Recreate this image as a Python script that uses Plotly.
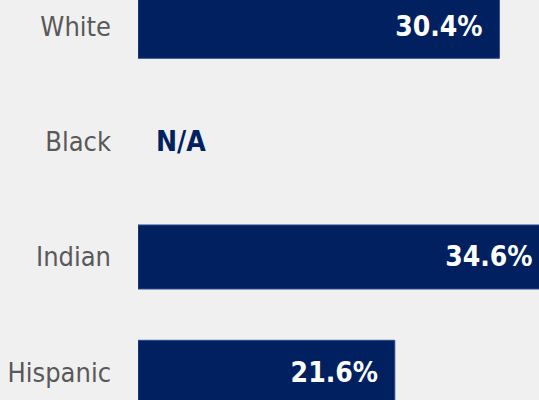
import plotly.graph_objects as go

categories = ["White", "Black", "Indian", "Hispanic"]
values = [30.4, None, 34.6, 21.6]
value_labels = ["30.4%", "N/A", "34.6%", "21.6%"]

NAVY = "#002060"
BG = "#f0f0f0"
FONT = "DejaVu Sans Condensed, Liberation Sans Narrow, sans-serif"
PAD = "\u00a0\u2009"

bar_text = [(lbl + PAD) if v is not None else "" for v, lbl in zip(values, value_labels)]

fig = go.Figure()
fig.add_trace(go.Bar(
    y=categories,
    x=values,
    orientation="h",
    width=0.555,
    marker=dict(color=NAVY, line=dict(color="#2a4a8a", width=1)),
    text=bar_text,
    textposition="inside",
    insidetextanchor="end",
    textangle=0,
    insidetextfont=dict(family=FONT, size=28, color="white", weight="bold"),
    hoverinfo="skip",
))

for cat, v, lbl in zip(categories, values, value_labels):
    if v is None:
        fig.add_annotation(
            x=0, y=cat, xref="x", yref="y",
            text="<b>" + lbl + "</b>",
            showarrow=False, xanchor="left", yanchor="middle",
            xshift=16,
            font=dict(family=FONT, size=28, color=NAVY),
        )

fig.update_layout(
    width=539, height=400,
    margin=dict(l=138, r=0, t=0, b=0),
    paper_bgcolor=BG, plot_bgcolor=BG,
    showlegend=False,
    xaxis=dict(range=[0, 33.73], visible=False, showgrid=False, zeroline=False),
    yaxis=dict(
        type="category",
        categoryorder="array", categoryarray=categories,
        range=[3.240, -0.228],
        automargin=False,
        showgrid=False, zeroline=False, showline=False, ticks="",
        ticklabelstandoff=26,
        tickfont=dict(family=FONT, size=27, color="#595959"),
    ),
)

fig.write_html("out.html", config={"displayModeBar": False},
               post_script="document.body.style.margin='0';")
